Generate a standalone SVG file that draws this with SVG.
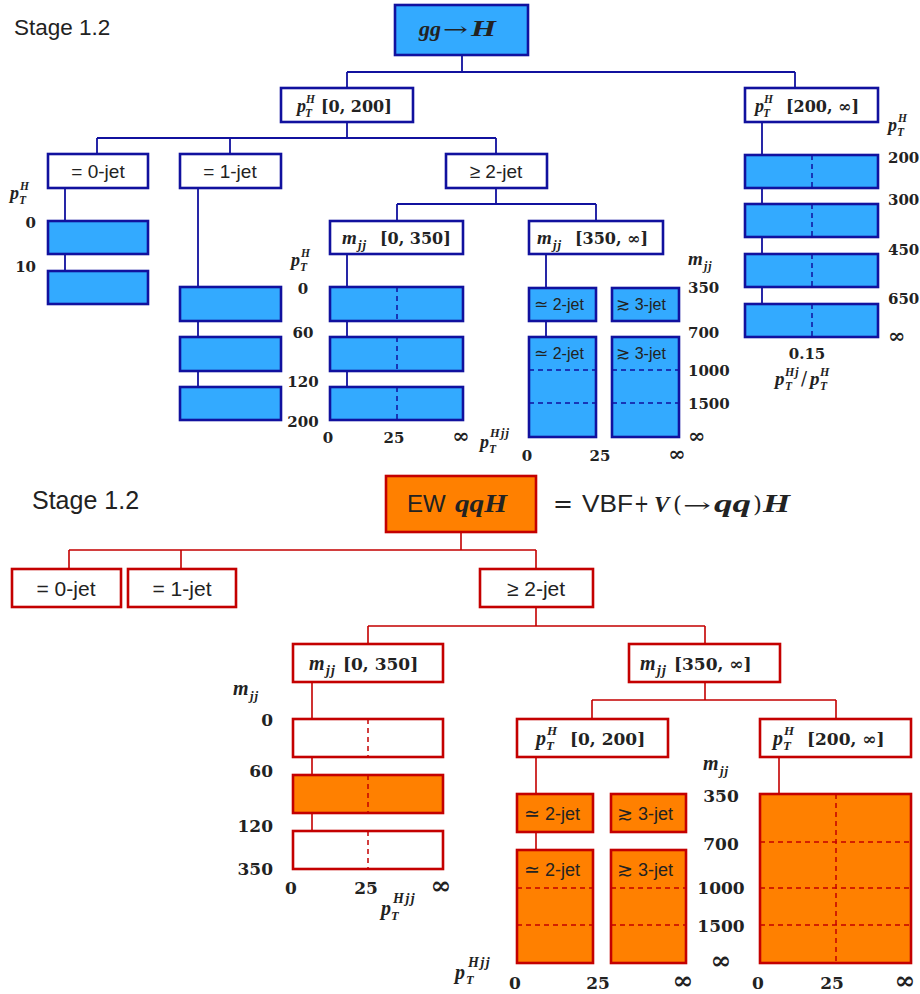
<svg xmlns="http://www.w3.org/2000/svg" width="920" height="994" viewBox="0 0 920 994">
<style>
.bb{fill:#33aaff;stroke:#11119e;stroke-width:2.6}
.bw{fill:#fff;stroke:#11119e;stroke-width:2.6}
.rb{fill:#ff8000;stroke:#c40000;stroke-width:2.6}
.rw{fill:#fff;stroke:#c40000;stroke-width:2.6}
.cb{fill:none;stroke:#11119e;stroke-width:1.8}
.cr{fill:none;stroke:#c40000;stroke-width:1.6}
.db{fill:none;stroke:#11119e;stroke-width:1.5;stroke-dasharray:5 4}
.dr{fill:none;stroke:#c40000;stroke-width:1.5;stroke-dasharray:5 4}
text{fill:#222}
.t{font-family:"Liberation Sans",Arial,sans-serif}
.mi{font-family:"Liberation Serif","DejaVu Serif",serif;font-style:italic;font-weight:bold}
.mn{font-family:"DejaVu Serif","Liberation Serif",serif;font-weight:bold}
.mr{font-family:"DejaVu Serif","Liberation Serif",serif;font-weight:normal}
.sym{font-family:"DejaVu Sans",sans-serif}
.bn{font-size:15px}
.rn{font-size:17px}
.binf{font-size:21px}
.rinf{font-size:25px}
</style>

<!-- ================= BLUE: gg -> H ================= -->
<text class="t" x="14" y="35" font-size="22.5">Stage 1.2</text>

<g id="connectors-blue">
<path class="cb" d="M462 55V72M347 72H795M347 72V88M795 72V88"/>
<path class="cb" d="M347 122V138M97 138H496M97 138V154M230 138V154M496 138V154"/>
<path class="cb" d="M496 188V204M397 204H596M397 204V221M596 204V221"/>
<path class="cb" d="M65 188V221M65 254V271"/>
<path class="cb" d="M198 188V287M198 321V337M198 371V387"/>
<path class="cb" d="M347 254V287M347 321V337M347 371V387"/>
<path class="cb" d="M546 254V288M546 321V337"/>
<path class="cb" d="M762 122V155M762 188V204M762 237V254M762 287V304"/>
</g>

<g id="ggH">
<rect class="bb" x="395" y="5" width="133" height="50" stroke-width="3"/>
<text class="mi" x="419" y="36" font-size="22">gg</text>
<text class="mr" x="443" y="36" font-size="20" textLength="25" lengthAdjust="spacingAndGlyphs">→</text>
<text class="mi" x="471" y="36" font-size="24" textLength="25" lengthAdjust="spacingAndGlyphs">H</text>
</g>

<g id="b-pt0200">
<rect class="bw" x="281" y="88" width="132" height="34"/>
<text class="mi" x="297" y="112" font-size="18">p</text>
<text class="mi" x="306" y="103" font-size="11.5">H</text>
<text class="mi" x="305" y="117" font-size="11.5">T</text>
<text class="mn" x="321" y="112" font-size="16">[0, 200]</text>
</g>

<g id="b-pt200inf">
<rect class="bw" x="745" y="88" width="133" height="34"/>
<text class="mi" x="755" y="112" font-size="18">p</text>
<text class="mi" x="764" y="103" font-size="11.5">H</text>
<text class="mi" x="763" y="117" font-size="11.5">T</text>
<text class="mn" x="786" y="112" font-size="16">[200, ∞]</text>
</g>

<g id="b-0jet">
<rect class="bw" x="48" y="154" width="100" height="34"/>
<text class="t" x="98" y="178" font-size="19" text-anchor="middle">= 0-jet</text>
</g>
<g id="b-1jet">
<rect class="bw" x="180" y="154" width="101" height="34"/>
<text class="t" x="230" y="178" font-size="19" text-anchor="middle">= 1-jet</text>
</g>
<g id="b-2jet">
<rect class="bw" x="446" y="154" width="101" height="34"/>
<text class="t" x="496" y="178" font-size="19" text-anchor="middle">≥ 2-jet</text>
</g>

<g id="b-0jet-bins">
<rect class="bb" x="48" y="221" width="100" height="33"/>
<rect class="bb" x="48" y="271" width="100" height="33"/>
<text class="mi" x="10" y="199" font-size="18">p</text>
<text class="mi" x="20" y="190" font-size="11.5">H</text>
<text class="mi" x="19" y="204" font-size="11.5">T</text>
<text class="mn bn" x="36" y="228" text-anchor="end">0</text>
<text class="mn bn" x="36" y="272" text-anchor="end">10</text>
</g>

<g id="b-1jet-bins">
<rect class="bb" x="180" y="287" width="101" height="34"/>
<rect class="bb" x="180" y="337" width="101" height="34"/>
<rect class="bb" x="180" y="387" width="101" height="33"/>
<text class="mi" x="291" y="266" font-size="18">p</text>
<text class="mi" x="301" y="257" font-size="11.5">H</text>
<text class="mi" x="300" y="271" font-size="11.5">T</text>
<text class="mn bn" x="303" y="294" text-anchor="middle">0</text>
<text class="mn bn" x="303" y="338" text-anchor="middle">60</text>
<text class="mn bn" x="303" y="387" text-anchor="middle">120</text>
<text class="mn bn" x="303" y="427" text-anchor="middle">200</text>
</g>

<g id="b-mjj0350">
<rect class="bw" x="330" y="221" width="133" height="33"/>
<text class="mi" x="342" y="244" font-size="19">m</text>
<text class="mi" x="358" y="249" font-size="13" letter-spacing="1">jj</text>
<text class="mn" x="380" y="244" font-size="16">[0, 350]</text>
</g>
<g id="b-mjj0350-bins">
<rect class="bb" x="330" y="287" width="133" height="34"/>
<rect class="bb" x="330" y="337" width="133" height="34"/>
<rect class="bb" x="330" y="387" width="133" height="33"/>
<path class="db" d="M397 287V321M397 337V371M397 387V420"/>
<text class="mn bn" x="328" y="443" text-anchor="middle">0</text>
<text class="mn bn" x="394" y="443" text-anchor="middle">25</text>
<text class="mn binf" x="461" y="443" text-anchor="middle">∞</text>
</g>

<g id="b-mjj350inf">
<rect class="bw" x="529" y="221" width="134" height="33"/>
<text class="mi" x="537" y="244" font-size="19">m</text>
<text class="mi" x="553" y="249" font-size="13" letter-spacing="1">jj</text>
<text class="mn" x="575" y="244" font-size="16">[350, ∞]</text>
</g>
<g id="b-vbf-bins">
<rect class="bb" x="529" y="288" width="67" height="33"/>
<rect class="bb" x="612" y="288" width="67" height="33"/>
<rect class="bb" x="529" y="337" width="67" height="100"/>
<rect class="bb" x="612" y="337" width="67" height="100"/>
<path class="db" d="M529 370H596M529 403H596M612 370H679M612 403H679"/>
<text class="t" x="534" y="310" font-size="16"><tspan class="sym" font-size="17">≃</tspan> 2-jet</text>
<text class="t" x="616" y="310" font-size="16"><tspan class="sym" font-size="17">≳</tspan> 3-jet</text>
<text class="t" x="534" y="359" font-size="16"><tspan class="sym" font-size="17">≃</tspan> 2-jet</text>
<text class="t" x="616" y="359" font-size="16"><tspan class="sym" font-size="17">≳</tspan> 3-jet</text>
<text class="mi" x="688" y="265" font-size="19">m</text>
<text class="mi" x="704" y="270" font-size="12" letter-spacing="1">jj</text>
<text class="mn bn" x="688" y="293">350</text>
<text class="mn bn" x="688" y="338">700</text>
<text class="mn bn" x="688" y="376">1000</text>
<text class="mn bn" x="688" y="409">1500</text>
<text class="mn binf" x="688" y="443">∞</text>
<text class="mi" x="480" y="448" font-size="18">p</text>
<text class="mi" x="490" y="437" font-size="12.5" letter-spacing="1.2">Hjj</text>
<text class="mi" x="489" y="453" font-size="11.5">T</text>
<text class="mn bn" x="527" y="461" text-anchor="middle">0</text>
<text class="mn bn" x="600" y="461" text-anchor="middle">25</text>
<text class="mn binf" x="677" y="461" text-anchor="middle">∞</text>
</g>

<g id="b-boost-bins">
<rect class="bb" x="745" y="155" width="133" height="33"/>
<rect class="bb" x="745" y="204" width="133" height="33"/>
<rect class="bb" x="745" y="254" width="133" height="33"/>
<rect class="bb" x="745" y="304" width="133" height="33"/>
<path class="db" d="M812 155V188M812 204V237M812 254V287M812 304V337"/>
<text class="mi" x="888" y="131" font-size="18">p</text>
<text class="mi" x="898" y="122" font-size="11.5">H</text>
<text class="mi" x="897" y="136" font-size="11.5">T</text>
<text class="mn bn" x="888" y="163">200</text>
<text class="mn bn" x="888" y="205">300</text>
<text class="mn bn" x="888" y="255">450</text>
<text class="mn bn" x="888" y="304">650</text>
<text class="mn binf" x="888" y="343">∞</text>
<text class="mn bn" x="807" y="359" text-anchor="middle">0.15</text>
<text class="mi" x="775" y="385" font-size="19">p</text>
<text class="mi" x="785" y="376" font-size="12" letter-spacing="1">Hj</text>
<text class="mi" x="785" y="390" font-size="11.5">T</text>
<text class="mr" x="801" y="385" font-size="18">/</text>
<text class="mi" x="810" y="385" font-size="19">p</text>
<text class="mi" x="820" y="376" font-size="12">H</text>
<text class="mi" x="820" y="390" font-size="11.5">T</text>
</g>

<!-- ================= RED: EW qqH ================= -->
<text class="t" x="32" y="509" font-size="25">Stage 1.2</text>

<g id="connectors-red">
<path class="cr" d="M461 532V550M69 550H536M69 550V569M181 550V569M536 550V569"/>
<path class="cr" d="M536 607V626M368 626H705M368 626V644M705 626V644"/>
<path class="cr" d="M312 682V719M312 757V775M312 813V831"/>
<path class="cr" d="M705 682V700M592 700H836M592 700V719M836 700V719"/>
<path class="cr" d="M536 757V794M536 832V850M779 757V794"/>
</g>

<g id="EWqqH">
<rect class="rb" x="386" y="476" width="150" height="56" stroke-width="3"/>
<text class="t" x="407" y="512" font-size="24">EW</text>
<text class="mi" x="455" y="512" font-size="25" textLength="52" lengthAdjust="spacingAndGlyphs">qqH</text>
<text class="mr" x="553" y="512" font-size="24" textLength="20" lengthAdjust="spacingAndGlyphs">=</text>
<text class="t" x="582" y="512" font-size="24" textLength="51" lengthAdjust="spacingAndGlyphs">VBF</text>
<text class="mr" x="634" y="512" font-size="24" textLength="15" lengthAdjust="spacingAndGlyphs">+</text>
<text class="mi" x="654" y="512" font-size="23">V</text>
<text class="mr" x="673" y="512" font-size="23">(</text>
<text class="mr" x="683" y="512" font-size="20" textLength="28" lengthAdjust="spacingAndGlyphs">→</text>
<text class="mi" x="714" y="512" font-size="25" textLength="37" lengthAdjust="spacingAndGlyphs">qq</text>
<text class="mr" x="753" y="512" font-size="23">)</text>
<text class="mi" x="763" y="512" font-size="25" textLength="27" lengthAdjust="spacingAndGlyphs">H</text>
</g>

<g id="r-0jet">
<rect class="rw" x="12" y="569" width="109" height="38"/>
<text class="t" x="66" y="596" font-size="21" text-anchor="middle">= 0-jet</text>
</g>
<g id="r-1jet">
<rect class="rw" x="128" y="569" width="108" height="38"/>
<text class="t" x="182" y="596" font-size="21" text-anchor="middle">= 1-jet</text>
</g>
<g id="r-2jet">
<rect class="rw" x="480" y="569" width="113" height="38"/>
<text class="t" x="536" y="596" font-size="21" text-anchor="middle">≥ 2-jet</text>
</g>

<g id="r-mjj0350">
<rect class="rw" x="293" y="644" width="150" height="38"/>
<text class="mi" x="309" y="670" font-size="20">m</text>
<text class="mi" x="326" y="675" font-size="14" letter-spacing="1.2">jj</text>
<text class="mn" x="343" y="670" font-size="17">[0, 350]</text>
</g>
<g id="r-mjj0350-bins">
<rect class="rw" x="293" y="719" width="150" height="38"/>
<rect class="rb" x="293" y="775" width="150" height="38"/>
<rect class="rw" x="293" y="831" width="150" height="38"/>
<path class="dr" d="M368 719V757M368 775V813M368 831V869"/>
<text class="mi" x="233" y="695" font-size="20">m</text>
<text class="mi" x="250" y="700" font-size="13" letter-spacing="1">jj</text>
<text class="mn rn" x="273" y="726" text-anchor="end">0</text>
<text class="mn rn" x="273" y="777" text-anchor="end">60</text>
<text class="mn rn" x="273" y="832" text-anchor="end">120</text>
<text class="mn rn" x="273" y="875" text-anchor="end">350</text>
<text class="mn rn" x="291" y="894" text-anchor="middle">0</text>
<text class="mn rn" x="366" y="894" text-anchor="middle">25</text>
<text class="mn rinf" x="441" y="894" text-anchor="middle">∞</text>
<text class="mi" x="381" y="915" font-size="20">p</text>
<text class="mi" x="393" y="903" font-size="14" letter-spacing="1.5">Hjj</text>
<text class="mi" x="391" y="920" font-size="12.5">T</text>
</g>

<g id="r-mjj350inf">
<rect class="rw" x="629" y="644" width="151" height="38"/>
<text class="mi" x="640" y="670" font-size="20">m</text>
<text class="mi" x="657" y="675" font-size="14" letter-spacing="1.2">jj</text>
<text class="mn" x="674" y="670" font-size="17">[350, ∞]</text>
</g>

<g id="r-pt0200">
<rect class="rw" x="517" y="719" width="151" height="38"/>
<text class="mi" x="536" y="745" font-size="20">p</text>
<text class="mi" x="547" y="735" font-size="13">H</text>
<text class="mi" x="546" y="750" font-size="13">T</text>
<text class="mn" x="570" y="745" font-size="17">[0, 200]</text>
</g>
<g id="r-pt200inf">
<rect class="rw" x="760" y="719" width="151" height="38"/>
<text class="mi" x="773" y="745" font-size="20">p</text>
<text class="mi" x="784" y="735" font-size="13">H</text>
<text class="mi" x="783" y="750" font-size="13">T</text>
<text class="mn" x="807" y="745" font-size="17">[200, ∞]</text>
</g>

<g id="r-vbf-bins">
<rect class="rb" x="517" y="794" width="76" height="38"/>
<rect class="rb" x="611" y="794" width="75" height="38"/>
<rect class="rb" x="517" y="850" width="76" height="113"/>
<rect class="rb" x="611" y="850" width="75" height="113"/>
<path class="dr" d="M517 888H593M517 925H593M611 888H686M611 925H686"/>
<text class="t" x="524" y="820" font-size="18"><tspan class="sym" font-size="19">≃</tspan> 2-jet</text>
<text class="t" x="617" y="820" font-size="18"><tspan class="sym" font-size="19">≳</tspan> 3-jet</text>
<text class="t" x="524" y="876" font-size="18"><tspan class="sym" font-size="19">≃</tspan> 2-jet</text>
<text class="t" x="617" y="876" font-size="18"><tspan class="sym" font-size="19">≳</tspan> 3-jet</text>
<text class="mi" x="703" y="770" font-size="20">m</text>
<text class="mi" x="720" y="775" font-size="13" letter-spacing="1">jj</text>
<text class="mn rn" x="721" y="802" text-anchor="middle">350</text>
<text class="mn rn" x="721" y="850" text-anchor="middle">700</text>
<text class="mn rn" x="721" y="894" text-anchor="middle">1000</text>
<text class="mn rn" x="721" y="932" text-anchor="middle">1500</text>
<text class="mn rinf" x="721" y="969" text-anchor="middle">∞</text>
<text class="mi" x="455" y="979" font-size="20">p</text>
<text class="mi" x="468" y="967" font-size="14" letter-spacing="1.5">Hjj</text>
<text class="mi" x="466" y="984" font-size="12.5">T</text>
<text class="mn rn" x="515" y="989" text-anchor="middle">0</text>
<text class="mn rn" x="598" y="989" text-anchor="middle">25</text>
<text class="mn rinf" x="683" y="989" text-anchor="middle">∞</text>
</g>

<g id="r-boost-bins">
<rect class="rb" x="760" y="794" width="151" height="169"/>
<path class="dr" d="M836 794V963M760 842H911M760 888H911M760 925H911"/>
<text class="mn rn" x="758" y="989" text-anchor="middle">0</text>
<text class="mn rn" x="832" y="989" text-anchor="middle">25</text>
<text class="mn rinf" x="905" y="989" text-anchor="middle">∞</text>
</g>
</svg>
